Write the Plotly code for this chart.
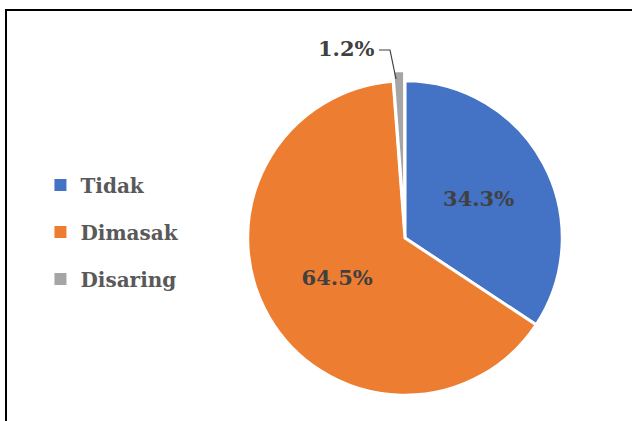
import plotly.graph_objects as go

labels = ["Tidak", "Dimasak", "Disaring"]
values = [34.3, 64.5, 1.2]
colors = ["#4472C4", "#ED7D31", "#A5A5A5"]
pulls = [0, 0, 0.065]
text_pos = ["inside", "inside", "none"]

FONT = "DejaVu Serif"

fig = go.Figure()
fig.add_trace(go.Pie(
    labels=labels, values=values, sort=False, direction="clockwise", rotation=0,
    marker=dict(colors=colors, line=dict(color="white", width=3)),
    pull=pulls, textposition=text_pos,
    texttemplate="%{percent:.1%}", insidetextorientation="horizontal",
    textfont=dict(family=FONT, size=21, color="#404040", weight="bold"),
    domain=dict(x=[0.3758, 0.9058], y=[0.0368, 0.8325]),
    hoverinfo="label+percent", showlegend=False,
))

# legend entries (square markers), one group each for Excel-like spacing
for i, (lab, col) in enumerate(zip(labels, colors)):
    fig.add_trace(go.Scatter(
        x=[None], y=[None], mode="markers", name=lab,
        marker=dict(symbol="square", size=8, color=col),
        legendgroup=f"g{i}", showlegend=True, hoverinfo="skip",
    ))

small_label = f"{values[2]:.1f}%"

fig.update_layout(
    width=632, height=421, margin=dict(l=0, r=0, t=0, b=0),
    paper_bgcolor="white", plot_bgcolor="white",
    xaxis=dict(visible=False), yaxis=dict(visible=False),
    showlegend=True,
    legend=dict(x=0.064, y=0.449, xanchor="left", yanchor="middle",
                tracegroupgap=18, itemsizing="constant",
                font=dict(family=FONT, size=20, color="#595959", weight="bold"),
                bgcolor="rgba(0,0,0,0)"),
    annotations=[dict(xref="paper", yref="paper", x=377/632, y=(421-48)/421,
                      xanchor="right", yanchor="middle", showarrow=False,
                      text=small_label,
                      font=dict(family=FONT, size=21, color="#404040", weight="bold"))],
    shapes=[
        dict(type="rect", xref="paper", yref="paper", x0=0.0095, x1=1.05, y0=-0.05, y1=0.976,
             line=dict(color="#000000", width=2)),
        dict(type="path", xref="paper", yref="paper",
             path=f"M {379/632},{(421-50)/421} L {390/632},{(421-50)/421} L {396/632},{(421-79)/421}",
             line=dict(color="#404040", width=1.2)),
    ],
)

fig.write_html("out.html", config={"displayModeBar": False},
               post_script="document.body.style.margin='0';")
